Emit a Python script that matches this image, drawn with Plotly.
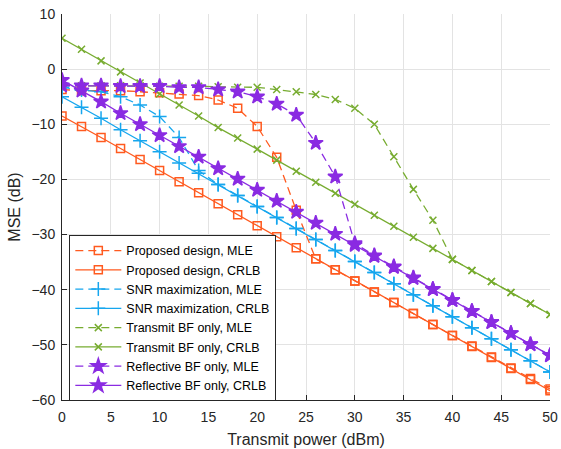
import plotly.graph_objects as go

power = list(range(0, 51, 2))

prop_mle = [-3.7, -3.9, -3.9, -3.9, -4.1, -4.3, -4.5, -4.8, -5.6, -7.1, -10.4, -16.0,
            -25.6,
            -34.4, -36.4, -38.4, -40.4, -42.3, -44.3, -46.3, -48.3, -50.2, -52.2, -54.2, -56.1, -58.0]
prop_crlb = [-8.5, -10.4, -12.4, -14.4, -16.4, -18.4, -20.4, -22.4, -24.4, -26.4, -28.4, -30.4, -32.4,
             -34.4, -36.4, -38.4, -40.4, -42.3, -44.3, -46.3, -48.3, -50.3, -52.3, -54.3, -56.3, -58.3]
snr_mle = [-3.3, -3.8, -4.1, -5.0, -6.5, -8.6, -12.4, -18.4,
           -20.9, -22.9, -24.9, -26.9, -28.9, -30.9, -32.9, -34.9, -36.9, -38.9, -40.9, -42.9,
           -44.9, -46.9, -48.9, -50.9, -52.9, -54.9]
snr_crlb = [-5.0, -6.9, -8.9, -11.0, -13.0, -15.0, -17.0, -18.9, -20.9, -22.9, -24.9, -26.9, -28.9,
            -30.9, -32.9, -34.9, -36.9, -38.9, -40.9, -42.9, -44.9, -46.9, -48.9, -50.9, -52.9, -54.9]
tbf_mle = [-3.0, -3.0, -3.0, -3.0, -3.0, -3.1, -3.1, -3.1, -3.2, -3.3, -3.3,
           -3.7, -4.1, -4.6, -5.5, -7.1, -10.0, -15.9, -21.8, -27.4, -34.5,
           -36.5, -38.5, -40.5, -42.5, -44.5]
tbf_crlb = [5.6, 3.6, 1.5, -0.5, -2.5, -4.5, -6.5, -8.5, -10.6, -12.5, -14.5, -16.5, -18.5,
            -20.5, -22.5, -24.5, -26.5, -28.5, -30.5, -32.5, -34.5, -36.5, -38.5, -40.5, -42.5, -44.5]
rbf_mle = [-3.0, -3.0, -3.0, -3.1, -3.1, -3.1, -3.3, -3.3,
           -3.7, -4.1, -5.0, -6.3, -8.3, -13.4, -19.5, -31.6,
           -33.8, -35.8, -37.8, -39.9, -41.9, -43.9, -45.9, -47.9, -49.9, -51.9]
rbf_crlb = [-2.0, -3.9, -5.9, -8.0, -10.0, -12.0, -14.0, -15.9, -18.0, -19.9, -21.9, -23.9, -25.9,
            -27.9, -29.9, -31.9, -33.9, -35.9, -37.9, -39.9, -41.9, -43.9, -45.9, -47.9, -49.9, -51.9]

names = ["Proposed design, MLE", "Proposed design, CRLB",
         "SNR maximization, MLE", "SNR maximization, CRLB",
         "Transmit BF only, MLE", "Transmit BF only, CRLB",
         "Reflective BF only, MLE", "Reflective BF only, CRLB"]
series = [prop_mle, prop_crlb, snr_mle, snr_crlb, tbf_mle, tbf_crlb, rbf_mle, rbf_crlb]

ORANGE = "#FF5A1F"
BLUE = "#16A6EE"
GREEN = "#77AC30"
PURPLE = "#8A2BE2"
colors = [ORANGE, ORANGE, BLUE, BLUE, GREEN, GREEN, PURPLE, PURPLE]
symbols = ["square-open", "square-open", "cross-thin-open", "cross-thin-open",
           "x-thin-open", "x-thin-open", "star", "star"]
sizes = [8, 8, 10, 10, 7, 7, 11, 11]
dashes = ["8px,5px", "solid"] * 4

FONT = "Liberation Sans, Arial"

fig = go.Figure()
for n, y, c, s, sz, d in zip(names, series, colors, symbols, sizes, dashes):
    fig.add_trace(go.Scatter(
        x=power, y=y, name=n, mode="lines+markers",
        line=dict(color=c, width=1.3, dash=d),
        marker=dict(symbol=s, size=sz, color=c, line=dict(color=c, width=1.5)),
    ))

axis_common = dict(
    showgrid=True, gridcolor="#E3E3E3", gridwidth=1,
    showline=True, linecolor="#262626", linewidth=1,
    ticks="inside", ticklen=5, tickcolor="#262626",
    tickfont=dict(family=FONT, size=14, color="#262626"),
    zeroline=False, mirror=False, automargin=False,
)
fig.update_xaxes(range=[0, 50], tickvals=list(range(0, 51, 5)),
                 ticklabelstandoff=4,
                 title=dict(text="Transmit power (dBm)", standoff=10,
                            font=dict(family=FONT, size=16, color="#262626")),
                 **axis_common)
fig.update_yaxes(range=[-60, 10], tickvals=list(range(-60, 11, 10)),
                 ticklabelstandoff=3,
                 title=dict(text="MSE (dB)", standoff=6,
                            font=dict(family=FONT, size=16, color="#262626")),
                 **axis_common)

fig.update_layout(
    width=561, height=449,
    margin=dict(l=62, r=11, t=14, b=49, autoexpand=False),
    plot_bgcolor="white", paper_bgcolor="white",
    legend=dict(x=0.015, y=0.4275, xanchor="left", yanchor="top",
                bgcolor="white", bordercolor="#262626", borderwidth=1,
                font=dict(family=FONT, size=12.5, color="#000000"),
                itemwidth=46, tracegroupgap=0),
    showlegend=True,
)

fig.write_html("out.html", config={"displayModeBar": False},
               post_script="document.body.style.margin='0px';")
